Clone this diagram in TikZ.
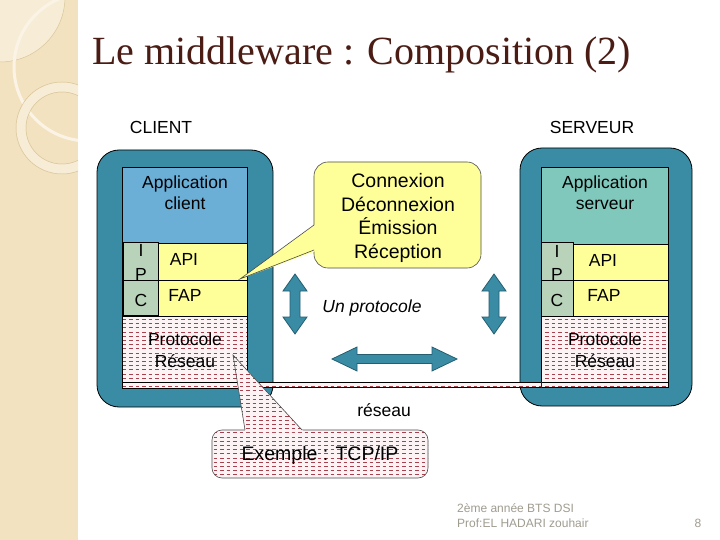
\documentclass[tikz,border=0pt]{standalone}
\usepackage{fontspec}
\setmainfont{Liberation Sans}
\newfontfamily\titlefont{Liberation Serif}
\definecolor{stripbg}{HTML}{F2E2C0}
\definecolor{striplt}{HTML}{F7ECD6}
\definecolor{striparc}{HTML}{FBF4E6}
\definecolor{stripline}{HTML}{D9C59A}
\definecolor{tealbox}{HTML}{3A8CA5}
\definecolor{tealdark}{HTML}{245E70}
\definecolor{appclient}{HTML}{6BAED6}
\definecolor{appserveur}{HTML}{80C8BC}
\definecolor{yel}{HTML}{FFFF99}
\definecolor{ipccol}{HTML}{B8D3BA}
\definecolor{hatchbg}{HTML}{FCF3F5}
\definecolor{hatchln}{HTML}{A8404E}
\definecolor{titlecol}{HTML}{4A1C14}
\definecolor{footcol}{HTML}{A09C90}
\newcommand\hatcharea[3]{%
  \begin{scope}
    \clip #1;
    \fill[hatchbg] (0,0) rectangle (720,540);
    \pgfmathtruncatemacro\hka{#2/4.2}
    \pgfmathtruncatemacro\hkb{#3/4.2+1}
    \foreach \k in {\hka,...,\hkb}
      \draw[hatchln, line width=0.5pt, dash pattern=on 3.5pt off 3pt] (90,\k*4.2) -- (700,\k*4.2);
  \end{scope}}
\begin{document}
\begin{tikzpicture}[x=1pt,y=-1pt,
  lbl/.style={inner sep=0pt, align=center, font=\fontsize{17.5}{21.5}\selectfont},
  big/.style={inner sep=0pt, align=center, font=\fontsize{19.5}{23.7}\selectfont},
  outerbox/.style={fill=tealbox, draw=black, line width=0.8pt, rounded corners=22pt},
  layer/.style={draw=black, line width=0.6pt},
  barrow/.style={fill=tealbox, draw=tealdark, line width=0.8pt},
  calloutline/.style={draw=black!70, line width=0.6pt},
  foot/.style={inner sep=0pt, anchor=west, text=footcol, font=\fontsize{12}{14}\selectfont}]
\useasboundingbox (0,0) rectangle (720,540);
\fill[white] (0,0) rectangle (720,540);
% left decorative strip
\begin{scope}
  \clip (0,0) rectangle (78,540);
  \fill[stripbg] (0,0) rectangle (78,540);
  \fill[striplt] (0,0) -- (0,62) arc[start angle=90, end angle=0, radius=65] -- cycle;
  \draw[stripline, line width=0.5pt] (0,62) arc[start angle=90, end angle=0, radius=65];
  \draw[striparc, line width=3pt] (88,67) circle[radius=74];
  \draw[striplt, line width=9pt] (62,128) circle[radius=41];
  \draw[stripline, line width=0.5pt] (62,128) circle[radius=46];
  \draw[stripline, line width=0.5pt] (62,128) circle[radius=36];
\end{scope}
% title
\node[inner sep=0pt, anchor=base west, text=titlecol, font=\titlefont\fontsize{40}{48}\selectfont] (title) at (92,65) {Le middleware : Composition (2)};
% headers
\node[lbl] (client) at (161,127) {CLIENT};
\node[lbl] (serveur) at (592,127) {SERVEUR};
% outer boxes
\path[outerbox] (97,150) rectangle (273,407);
\path[outerbox] (520,148) rectangle (692,406);
% left column
\path[layer, fill=appclient] (122,167) rectangle (247,243);
\path[layer, fill=yel] (122,243) rectangle (247,280);
\path[layer, fill=yel] (122,280) rectangle (247,316);
\hatcharea{(122,316) rectangle (247,388)}{316}{388}
\draw[layer] (122,316) rectangle (247,388);
\draw[layer] (122,382) -- (247,382);
\path[layer, fill=ipccol] (123,242) rectangle (158,315);
\draw[layer] (123,280) -- (158,280);
% right column
\path[layer, fill=appserveur] (541,167) rectangle (668,244);
\path[layer, fill=yel] (541,244) rectangle (668,280);
\path[layer, fill=yel] (541,280) rectangle (668,316);
\hatcharea{(541,316) rectangle (668,387)}{316}{387}
\draw[layer] (541,316) rectangle (668,387);
\draw[layer] (541,382) -- (668,382);
\path[layer, fill=ipccol] (541,242) rectangle (573,316);
\draw[layer] (541,280) -- (573,280);
% network strip
\hatcharea{(247,382.5) rectangle (541,387.5)}{380}{390}
\draw[layer] (247,382.5) -- (541,382.5);
\draw[layer] (247,387.5) -- (541,387.5);
% column labels
\node[lbl] (appc) at (185,192.5) {Application\\client};
\node[lbl] (apps) at (605,192.5) {Application\\serveur};
\node[lbl] (apil) at (184,259) {API};
\node[lbl] (fapl) at (185,295) {FAP};
\node[lbl] (apir) at (603,260) {API};
\node[lbl] (fapr) at (604,295) {FAP};
\node[lbl] (il) at (141,250) {I};
\node[lbl] (pl) at (141,274) {P};
\node[lbl] (cl) at (141,300) {C};
\node[lbl] (ir) at (557,251) {I};
\node[lbl] (pr) at (557,274) {P};
\node[lbl] (cr) at (557,300) {C};
\node[lbl] (protl) at (185,350) {Protocole\\Réseau};
\node[lbl] (protr) at (605,350) {Protocole\\Réseau};
% callout Connexion
\path[fill=yel, calloutline, rounded corners=14pt] (314,162) rectangle (481,268);
\fill[yel] (240,279) -- (316,224) -- (316,251) -- cycle;
\draw[calloutline] (314,225) -- (240,279) -- (314,250);
\node[big] (ops) at (398,218) {Connexion\\Déconnexion\\Émission\\Réception};
% arrows
\path[barrow] (295,274) -- (307,291) -- (300,291) -- (300,317) -- (307,317) -- (295,334) -- (283,317) -- (290,317) -- (290,291) -- (283,291) -- cycle;
\path[barrow] (494,274) -- (506,291) -- (499,291) -- (499,317) -- (506,317) -- (494,334) -- (482,317) -- (489,317) -- (489,291) -- (482,291) -- cycle;
\path[barrow] (332,359) -- (357,347) -- (357,354.5) -- (432,354.5) -- (432,347) -- (457,359) -- (432,371) -- (432,363.5) -- (357,363.5) -- (357,371) -- cycle;
\node[lbl, font=\itshape\fontsize{17.5}{21}\selectfont] (unp) at (372,308) {Un protocole};
\node[lbl] (reseau) at (384,410) {réseau};
% callout Exemple
\hatcharea{[rounded corners=10pt] (212,430) rectangle (428,478)}{428}{480}
\draw[calloutline, rounded corners=10pt] (212,430) rectangle (428,478);
\hatcharea{(233,355) -- (245.3,432) -- (304,432) -- cycle}{352}{434}
\draw[calloutline] (245,430) -- (233,355) -- (302,430);
\node[big] (ex) at (320,455) {Exemple : TCP/IP};
% footer
\node[foot] (f1) at (457,508) {2ème année BTS DSI};
\node[foot] (f2) at (457,523) {Prof:EL HADARI zouhair};
\node[foot, anchor=center] (pg) at (698,523) {8};
\end{tikzpicture}
\end{document}
